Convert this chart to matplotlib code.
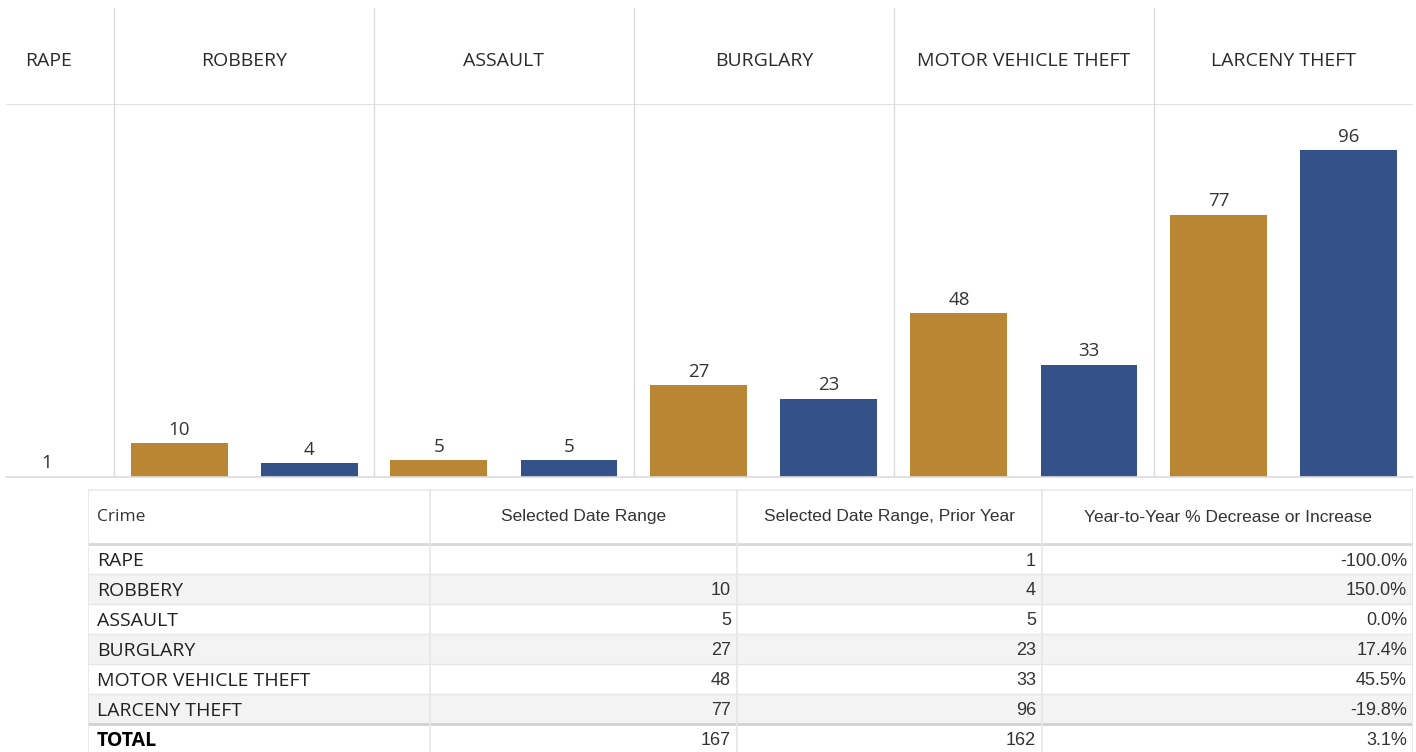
import matplotlib
matplotlib.use("Agg")
import matplotlib.pyplot as plt
from matplotlib.patches import Rectangle

# data
crimes = ["RAPE", "ROBBERY", "ASSAULT", "BURGLARY", "MOTOR VEHICLE THEFT", "LARCENY THEFT"]
selected = [0, 10, 5, 27, 48, 77]
prior = [1, 4, 5, 23, 33, 96]
col_headers = ["Crime", "Selected Date Range", "Selected Date Range, Prior Year",
               "Year-to-Year % Decrease or Increase"]

ORANGE = "#B98734"
BLUE = "#345287"
GRID = "#DCDCDC"
TXT = "#333333"

W, H = 1416, 752
fig = plt.figure(figsize=(W / 100, H / 100), dpi=100)

def px_axes(x, y, w, h):
    return fig.add_axes([x / W, 1 - (y + h) / H, w / W, h / H])

head_font = ["Open Sans", "DejaVu Sans"]
tab_font = ["Liberation Sans Narrow", "Liberation Sans", "DejaVu Sans"]

slot = 130.0           # pixels per bar slot
rape_w = 108 / slot    # first panel is narrower
bar_w = 97 / slot
xmax = 1407 / slot

# panel edges
edges = [0, rape_w] + [rape_w + 2 * k for k in range(1, 6)]

# header strip
hax = px_axes(6, 8, 1407, 97)
hax.set_xlim(0, xmax)
hax.set_ylim(0, 1)
hax.axis("off")
for e in edges[1:]:
    hax.axvline(e, color=GRID, lw=1)
hax.axhline(0, color=GRID, lw=1.2)
centers = [(edges[i] + edges[i + 1]) / 2 for i in range(len(crimes))]
centers[0] = (49 - 6) / slot
for c, name in zip(centers, crimes):
    hax.text(c, 0.455, name, ha="center", va="center", fontsize=14,
             color="#2b2b2b", family=head_font)

# bars
ax = px_axes(6, 105, 1407, 372)
ax.set_xlim(0, xmax)
ax.set_ylim(0, 109.2)
for s in ["top", "right", "left"]:
    ax.spines[s].set_visible(False)
ax.spines["bottom"].set_color(GRID)
ax.spines["bottom"].set_linewidth(1.2)
ax.set_xticks([])
ax.set_yticks([])
for e in edges[1:]:
    ax.axvline(e, color=GRID, lw=1)

for i, name in enumerate(crimes):
    if i == 0:
        # only prior-year value exists; bar too thin to show
        ax.annotate(str(prior[i]), (41 / slot, prior[i]), xytext=(0, 7.5),
                    textcoords="offset points", ha="center", va="center",
                    fontsize=13.5, color=TXT, family=head_font)
        continue
    x0 = edges[i]
    for j, (val, col) in enumerate([(selected[i], ORANGE), (prior[i], BLUE)]):
        xc = x0 + 0.5 + j
        ax.bar(xc, val, width=bar_w, color=col)
        ax.annotate(str(val), (xc, val), xytext=(0, 9.5),
                    textcoords="offset points", ha="center", va="center",
                    fontsize=13.5, color=TXT, family=head_font)

# table
tax = px_axes(88, 489, 1325, 263)
tax.set_xlim(88, 1413)
tax.set_ylim(752, 489)
tax.axis("off")
cols = [88, 430, 737, 1042, 1413]
row_tops = [545, 574, 604, 634, 664, 694, 724]
row_h = 30

tot_sel = sum(selected)
tot_pri = sum(prior)
rows = []
for i, name in enumerate(crimes):
    pct = (selected[i] - prior[i]) / prior[i] * 100
    rows.append([name, str(selected[i]) if selected[i] else "", str(prior[i]), f"{pct:.1f}%"])
rows.append(["TOTAL", str(tot_sel), str(tot_pri), f"{(tot_sel - tot_pri) / tot_pri * 100:.1f}%"])

# backgrounds
for r, top in enumerate(row_tops):
    if r in (1, 3, 5):
        tax.add_patch(Rectangle((cols[0], top), cols[-1] - cols[0], row_h,
                                facecolor="#F3F3F3", edgecolor="none"))
# horizontal lines
tax.plot([cols[0], cols[-1]], [489.5, 489.5], color="#EEEEEE", lw=1.5)
tax.plot([cols[0], cols[-1]], [544, 544], color="#D8D8D8", lw=2)
for top in row_tops[1:-1]:
    tax.plot([cols[0], cols[-1]], [top, top], color="#E6E6E6", lw=1)
tax.plot([cols[0], cols[-1]], [724, 724], color="#D0D0D0", lw=2)
# vertical lines
for c in cols:
    tax.plot([c, c], [489, 752], color="#E6E6E6", lw=1.2)

# header row text
tax.text(cols[0] + 9, 517, col_headers[0], ha="left", va="center",
         fontsize=12.5, color=TXT, family=head_font)
for k in range(1, 4):
    tax.text((cols[k] + cols[k + 1]) / 2, 517, col_headers[k], ha="center",
             va="center", fontsize=12.5, color=TXT, family=tab_font)

for r, row in enumerate(rows):
    yc = row_tops[r] + row_h / 2 + 1.5
    bold = "bold" if row[0] == "TOTAL" else "normal"
    tax.text(cols[0] + 9, yc, row[0], ha="left", va="center", fontsize=14,
             color="#222222" if bold == "normal" else "black",
             weight=bold, family=head_font)
    for k in range(1, 4):
        tax.text(cols[k + 1] - 6, yc, row[k], ha="right", va="center",
                 fontsize=13, color=TXT, family=tab_font)

fig.savefig("out.png", dpi=100, facecolor="white")
